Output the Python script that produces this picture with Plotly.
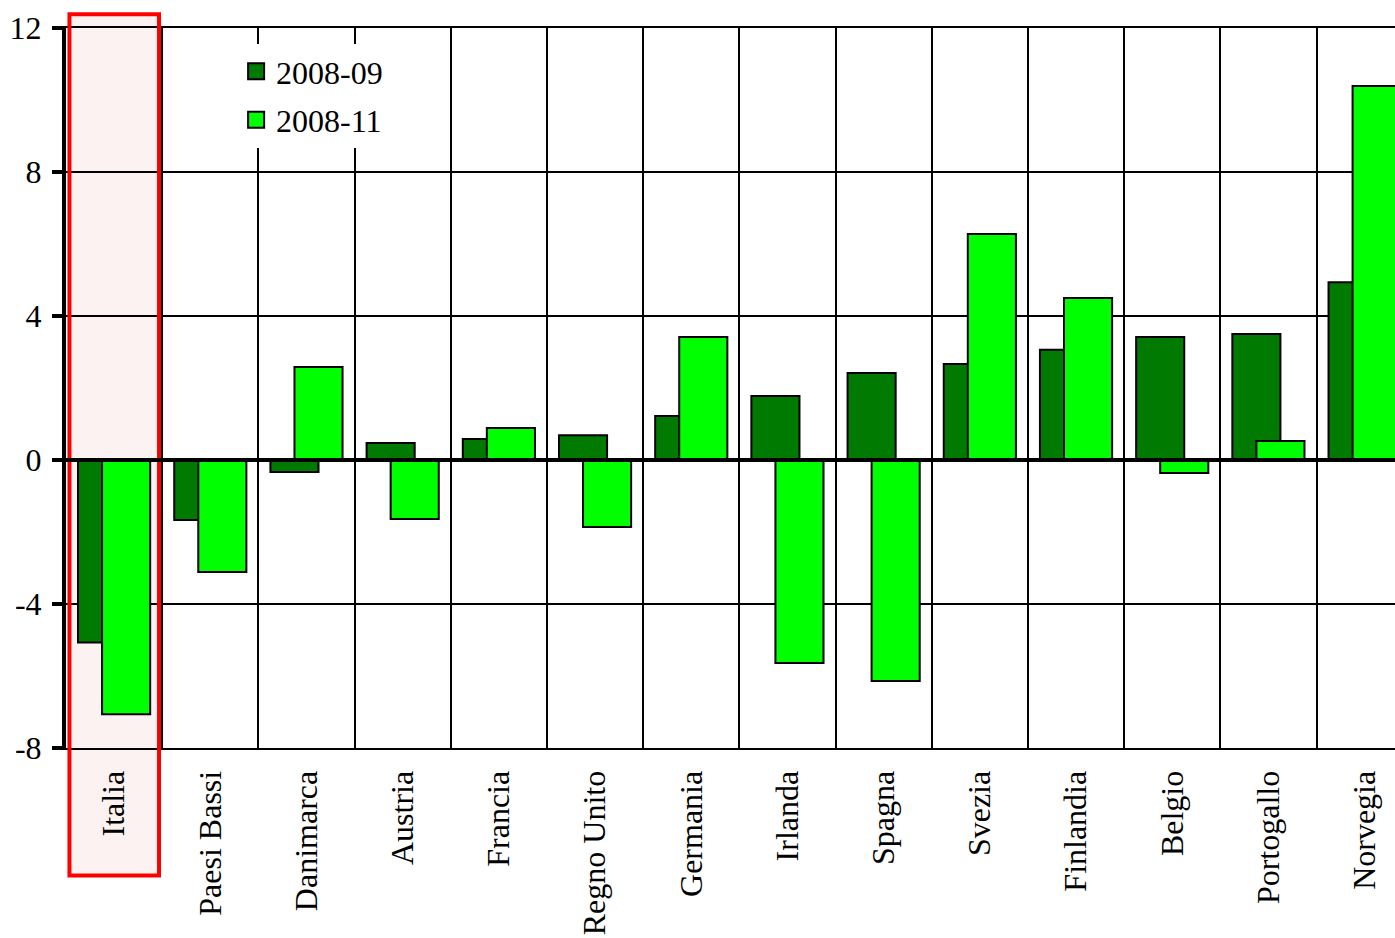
import plotly.graph_objects as go

# Paesi europei e variazioni (punti percentuali) nei due periodi
paesi = ["Italia", "Paesi Bassi", "Danimarca", "Austria", "Francia", "Regno Unito",
         "Germania", "Irlanda", "Spagna", "Svezia", "Finlandia", "Belgio",
         "Portogallo", "Norvegia"]
serie_2008_09 = [-5.07, -1.67, -0.33, 0.47, 0.58, 0.69, 1.22, 1.78, 2.42, 2.67,
                 3.06, 3.42, 3.50, 4.94]
serie_2008_11 = [-7.06, -3.11, 2.58, -1.64, 0.89, -1.86, 3.42, -5.64, -6.14, 6.28,
                 4.50, -0.36, 0.53, 10.39]
y_ticks = [-8, -4, 0, 4, 8, 12]
y_ticktext = ["-8", "-4", "0", "4", "8", "12"]

colori = {"2008-09": "#007a00", "2008-11": "#00ff00"}

pos = list(range(len(paesi)))
font_family = "Liberation Serif, Times New Roman, serif"

fig = go.Figure()
fig.add_trace(go.Bar(
    x=pos, y=serie_2008_09, name="2008-09", showlegend=False,
    width=0.5, offset=-0.375,
    marker=dict(color=colori["2008-09"], line=dict(color="black", width=2)),
))
fig.add_trace(go.Bar(
    x=pos, y=serie_2008_11, name="2008-11", showlegend=False,
    width=0.5, offset=-0.125,
    marker=dict(color=colori["2008-11"], line=dict(color="black", width=2)),
))

# Voci di legenda con quadratini più grandi
for nome, colore in colori.items():
    fig.add_trace(go.Scatter(
        x=[None], y=[None], mode="markers", name=nome, legendgroup=nome,
        marker=dict(symbol="square", size=16, color=colore,
                    line=dict(color="black", width=2)),
    ))

# Evidenziazione dell'Italia: riquadro rosato con bordo rosso
fig.add_shape(type="rect", xref="paper", yref="paper",
              x0=0.0026, x1=0.0700, y0=-0.177, y1=1.019,
              fillcolor="#fdf2f2", line=dict(width=0), layer="below")
fig.add_shape(type="rect", xref="paper", yref="paper",
              x0=0.0026, x1=0.0700, y0=-0.177, y1=1.019,
              fillcolor="rgba(0,0,0,0)", line=dict(color="#ff0000", width=4),
              layer="above")
# Linea dello zero sopra le barre
fig.add_shape(type="line", xref="paper", yref="y", x0=0, x1=1, y0=0, y1=0,
              line=dict(color="black", width=4), layer="above")

fig.update_layout(
    width=1395, height=938,
    margin=dict(l=66, r=0, t=28, b=190, autoexpand=False),
    paper_bgcolor="white", plot_bgcolor="white",
    barmode="overlay",
    font=dict(family=font_family, size=32, color="black"),
    showlegend=True,
    legend=dict(
        x=0.128, y=0.978, xanchor="left", yanchor="top",
        bgcolor="white", borderwidth=0,
        font=dict(family=font_family, size=32, color="black"),
        tracegroupgap=4, itemwidth=30,
    ),
)

fig.update_xaxes(
    range=[-0.5, 13.316], automargin=False,
    tickmode="array", tickvals=pos, ticktext=paesi,
    tickangle=-90, ticks="", ticklabelstandoff=8,
    showgrid=False, zeroline=False,
    showline=True, linecolor="black", linewidth=2, mirror=True,
    minor=dict(tickmode="array", tickvals=[p + 0.5 for p in pos],
               showgrid=True, gridcolor="black", gridwidth=2, ticks=""),
    tickfont=dict(family=font_family, size=32, color="black"),
)
fig.update_yaxes(
    range=[-8, 12], automargin=False,
    tickmode="array", tickvals=y_ticks, ticktext=y_ticktext,
    showgrid=True, gridcolor="black", gridwidth=2,
    zeroline=True, zerolinecolor="black", zerolinewidth=4,
    showline=True, linecolor="black", linewidth=4,
    ticks="outside", ticklen=10, tickwidth=4, tickcolor="black",
    ticklabelstandoff=4,
    tickfont=dict(family=font_family, size=32, color="black"),
)

fig.write_html("out.html")
